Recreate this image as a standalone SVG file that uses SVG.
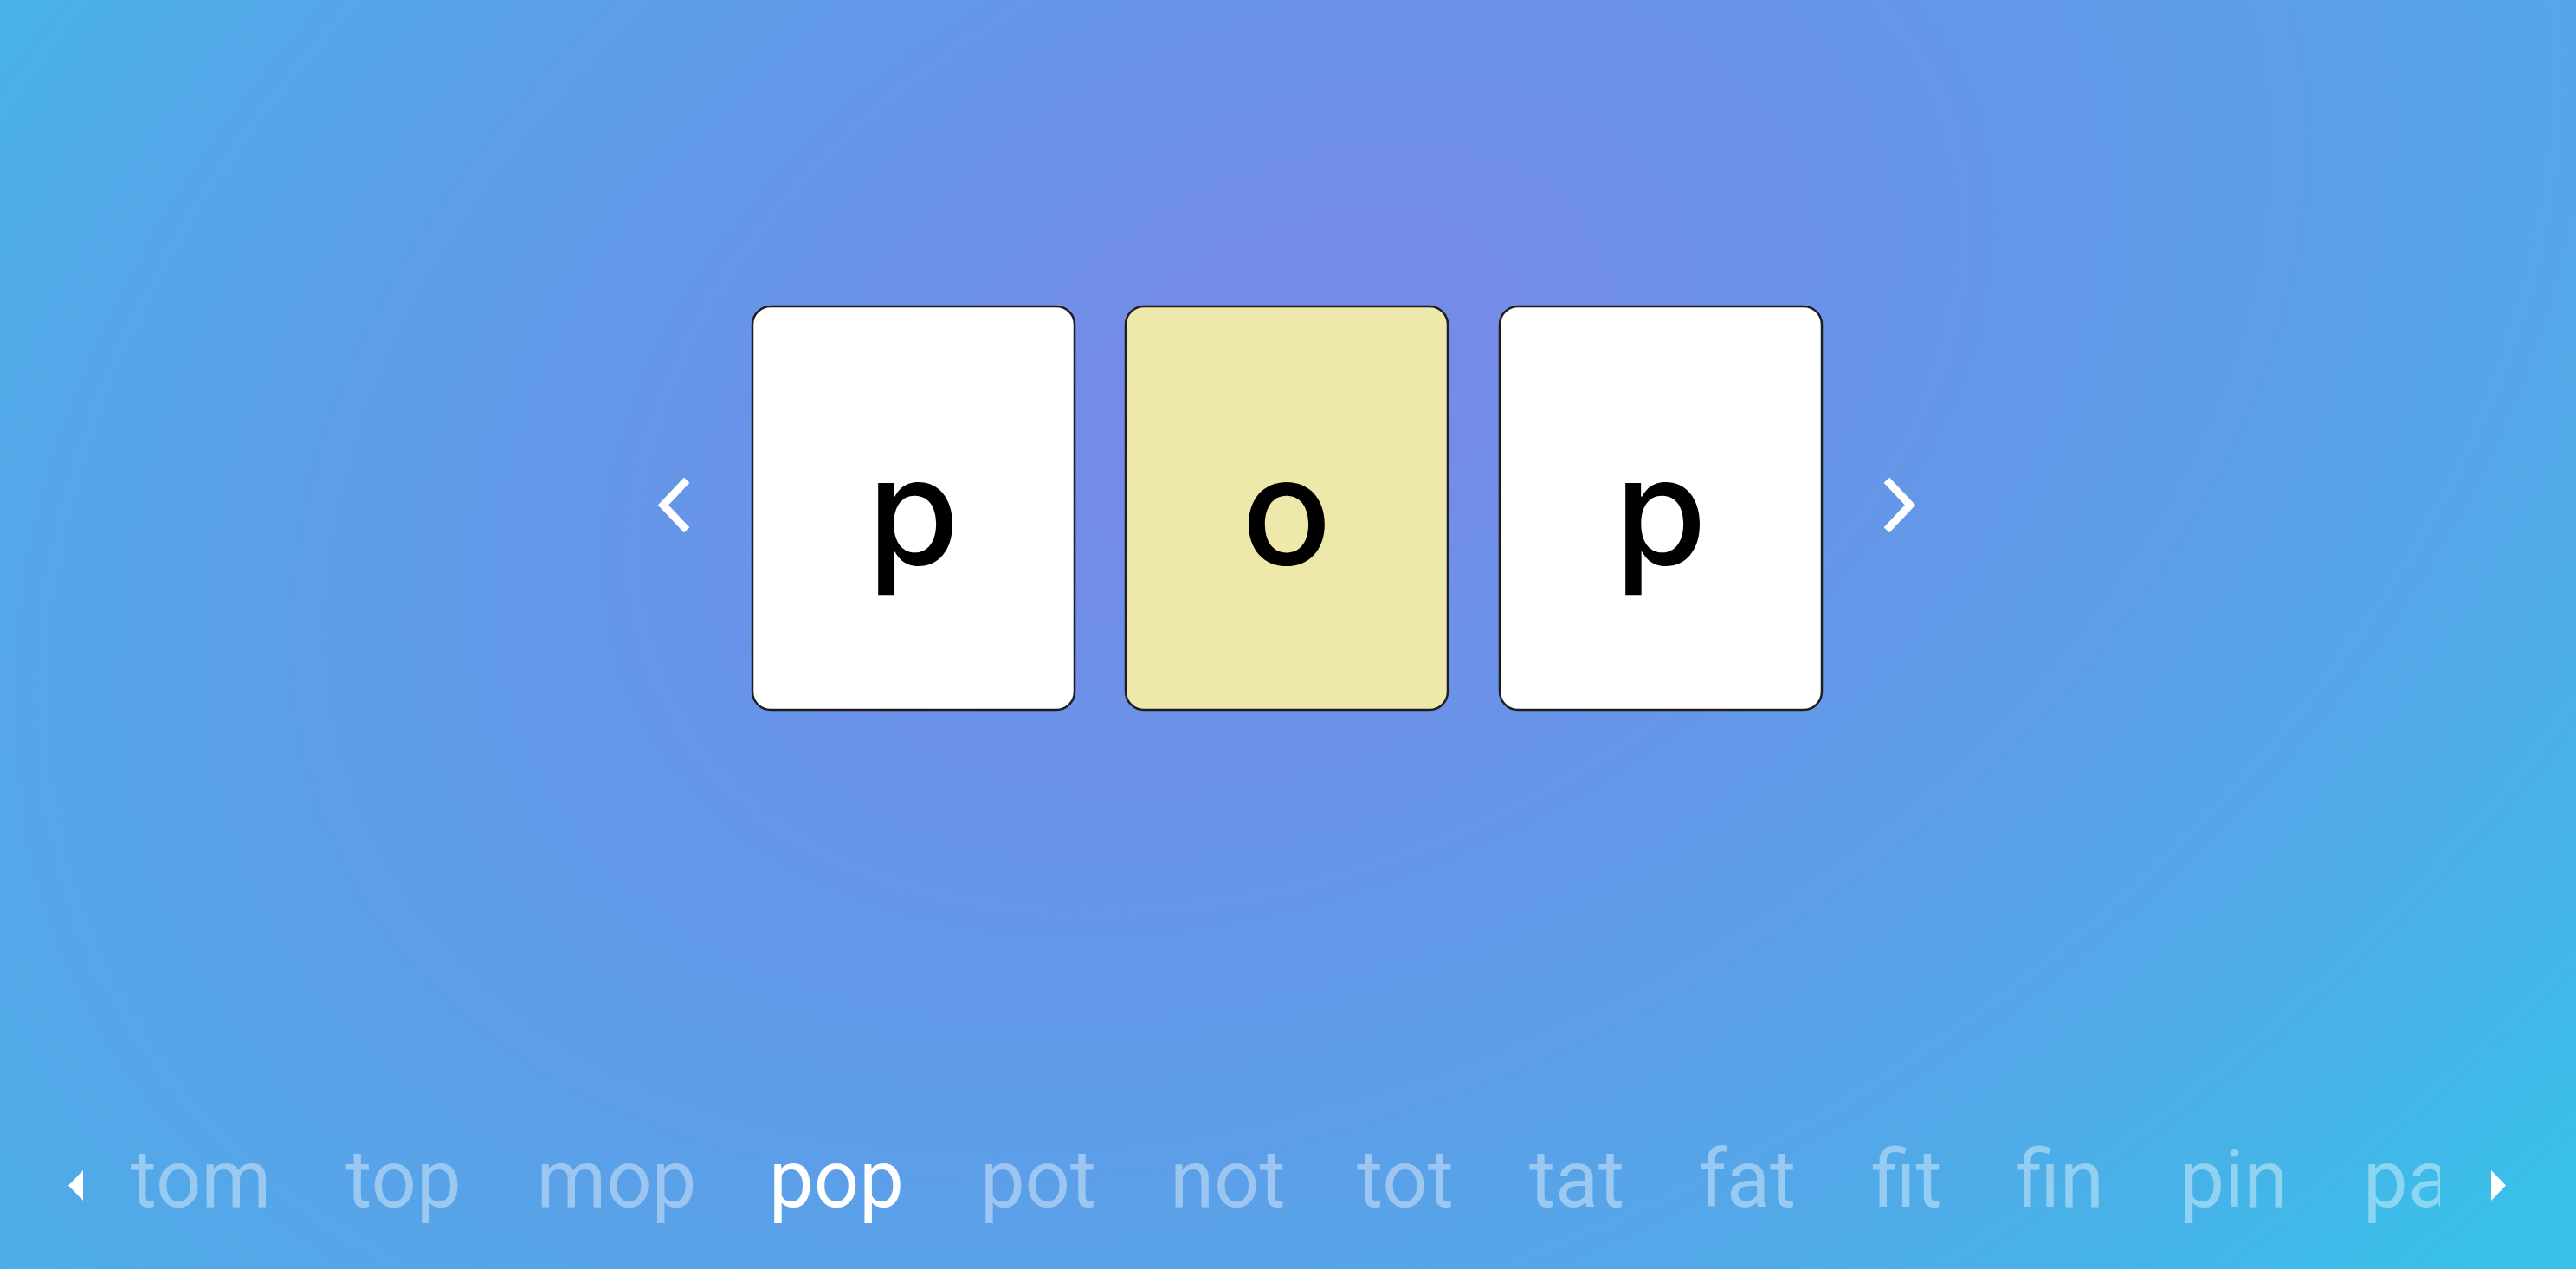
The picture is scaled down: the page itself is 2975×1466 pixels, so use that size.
<svg xmlns="http://www.w3.org/2000/svg" width="2975" height="1466" viewBox="0 0 2975 1466">
  <defs>
    <radialGradient id="bg" gradientUnits="userSpaceOnUse" cx="0" cy="0" r="1" gradientTransform="translate(1500 450) rotate(-26) scale(2400 1600)">
      <stop offset="0" stop-color="#7a88e8"/>
      <stop offset="0.3" stop-color="#6794e8"/>
      <stop offset="0.65" stop-color="#55a6e8"/>
      <stop offset="0.85" stop-color="#45b4e8"/>
      <stop offset="1" stop-color="#38c2e9"/>
    </radialGradient>
    <clipPath id="strip">
      <rect x="130" y="1280" width="2688" height="186"/>
    </clipPath>
    <style>
      .card { stroke: #1e1e1e; stroke-width: 2.5; }
      .white { fill: #ffffff; }
      .gold { fill: #eee8aa; }
      .letter { font-family: Inter, "DejaVu Sans", sans-serif; font-size: 172px; font-weight: 500; fill: #000000; text-anchor: middle; }
      .chev { fill: none; stroke: #ffffff; stroke-width: 9; stroke-linecap: square; stroke-linejoin: miter; }
      .word { font-family: Roboto, "Liberation Sans", sans-serif; font-size: 92px; fill: #ffffff; fill-opacity: 0.4; text-anchor: middle; }
      .word.active { fill-opacity: 1; }
      .tri { fill: #ffffff; }
    </style>
  </defs>

  <rect x="0" y="0" width="2975" height="1466" fill="url(#bg)"/>

  <g id="nav-prev">
    <polyline class="chev" points="790,558 766,583.5 790,609"/>
  </g>
  <g id="card-1">
    <rect class="card white" x="869" y="354" width="372" height="466" rx="21" ry="21"/>
    <text class="letter" x="1055" y="652">p</text>
  </g>
  <g id="card-2">
    <rect class="card gold" x="1300" y="354" width="372" height="466" rx="21" ry="21"/>
    <text class="letter" x="1486" y="652">o</text>
  </g>
  <g id="card-3">
    <rect class="card white" x="1732" y="354" width="372" height="466" rx="21" ry="21"/>
    <text class="letter" x="1918" y="652">p</text>
  </g>
  <g id="nav-next">
    <polyline class="chev" points="2182,558 2206,583.5 2182,609"/>
  </g>

  <g id="word-strip">
    <polygon id="strip-prev" class="tri" points="79,1369.5 96,1352 96,1387"/>
    <g clip-path="url(#strip)">
      <text class="word" x="232" y="1394">tom</text>
      <text class="word" x="466" y="1394">top</text>
      <text class="word" x="712" y="1394">mop</text>
      <text class="word active" x="966" y="1394">pop</text>
      <text class="word" x="1199" y="1394">pot</text>
      <text class="word" x="1418" y="1394">not</text>
      <text class="word" x="1623" y="1394">tot</text>
      <text class="word" x="1821" y="1394">tat</text>
      <text class="word" x="2018" y="1394">fat</text>
      <text class="word" x="2202" y="1394">fit</text>
      <text class="word" x="2379" y="1394">fin</text>
      <text class="word" x="2580" y="1394">pin</text>
      <text class="word" x="2729" y="1394" style="text-anchor:start">pa</text>
    </g>
    <polygon id="strip-next" class="tri" points="2877,1352 2877,1387 2894,1369.5"/>
  </g>
</svg>
